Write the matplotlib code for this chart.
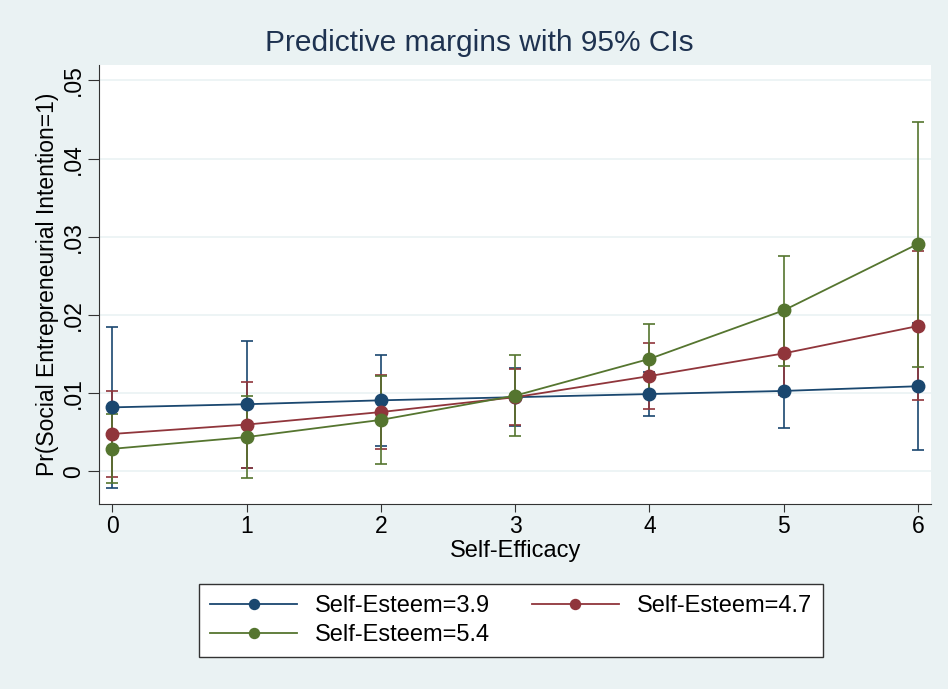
import matplotlib
matplotlib.use('Agg')
import matplotlib.pyplot as plt
import numpy as np

plt.rcParams['font.family'] = ['Liberation Sans', 'DejaVu Sans']

# data
efficacy = [0, 1, 2, 3, 4, 5, 6]
labels = ["Self-Esteem=3.9", "Self-Esteem=4.7", "Self-Esteem=5.4"]

m_39 = [0.0082, 0.0086, 0.0091, 0.0095, 0.0099, 0.0103, 0.0109]
lo_39 = [-0.0021, 0.0005, 0.0033, 0.0058, 0.0071, 0.0055, 0.0028]
hi_39 = [0.0185, 0.0167, 0.0149, 0.0132, 0.0127, 0.0151, 0.0190]

m_47 = [0.0048, 0.0060, 0.0076, 0.0095, 0.0122, 0.0151, 0.0186]
lo_47 = [-0.0007, 0.0005, 0.0029, 0.0060, 0.0080, 0.0098, 0.0091]
hi_47 = [0.0103, 0.0115, 0.0123, 0.0131, 0.0164, 0.0204, 0.0282]

m_54 = [0.0029, 0.0044, 0.0066, 0.0097, 0.0144, 0.0206, 0.0291]
lo_54 = [-0.0015, -0.0008, 0.0010, 0.0046, 0.0100, 0.0135, 0.0133]
hi_54 = [0.0073, 0.0096, 0.0122, 0.0149, 0.0188, 0.0276, 0.0447]

yticks = [0, 0.01, 0.02, 0.03, 0.04, 0.05]
ytick_labels = ["0", ".01", ".02", ".03", ".04", ".05"]

colors = ["#1a476f", "#90353b", "#55752f"]
bg = "#eaf2f3"

fig = plt.figure(figsize=(9.48, 6.89), dpi=100, facecolor=bg)
ax = fig.add_axes([0.1045, 0.268, 0.878, 0.638])
ax.set_facecolor("white")

series = [(m_39, lo_39, hi_39), (m_47, lo_47, hi_47), (m_54, lo_54, hi_54)]
handles = []
for (m, lo, hi), c, lab in zip(series, colors, labels):
    m = np.array(m); lo = np.array(lo); hi = np.array(hi)
    ax.errorbar(efficacy, m, yerr=[m - lo, hi - m], fmt="none", ecolor=c,
                elinewidth=1.2, capsize=4.5, capthick=1.2, zorder=2)
    h, = ax.plot(efficacy, m, color=c, lw=1.3, marker="o", ms=9, zorder=3, label=lab)
    handles.append(h)

ax.set_xlim(-0.1, 6.1)
ax.set_ylim(-0.0042, 0.052)
ax.set_xticks(efficacy)
ax.set_yticks(yticks)
ax.set_yticklabels(ytick_labels, rotation=90, va="center")
ax.tick_params(axis="both", labelsize=16.5, color="#333333", pad=2)
ax.tick_params(axis="y", length=8)
ax.tick_params(axis="x", length=6)
ax.grid(axis="y", color=bg, lw=1.2)
ax.set_axisbelow(True)
for s in ["top", "right"]:
    ax.spines[s].set_visible(False)
for s in ["left", "bottom"]:
    ax.spines[s].set_color("#333333")

ax.set_xlabel("Self-Efficacy", fontsize=17, labelpad=1)
ax.set_ylabel("Pr(Social Entrepreneurial Intention=1)", fontsize=16.5, labelpad=2)
fig.text(0.506, 1 - 43 / 689, "Predictive margins with 95% CIs",
         fontsize=21.5, color="#1e3250", ha="center", va="center")

# order so that legend fills row-wise
leg = fig.legend([handles[0], handles[2], handles[1]],
                 [labels[0], labels[2], labels[1]],
                 ncol=2, loc="center", bbox_to_anchor=(0.539, 0.0994),
                 fontsize=17, frameon=True, fancybox=False, framealpha=1,
                 facecolor="white", edgecolor="#333333", markerscale=0.8,
                 handlelength=3.7, handletextpad=0.75, columnspacing=1.75,
                 borderpad=0.45, labelspacing=0.3)
leg.get_frame().set_linewidth(1.0)

plt.savefig("out.png", dpi=100, facecolor=bg)
